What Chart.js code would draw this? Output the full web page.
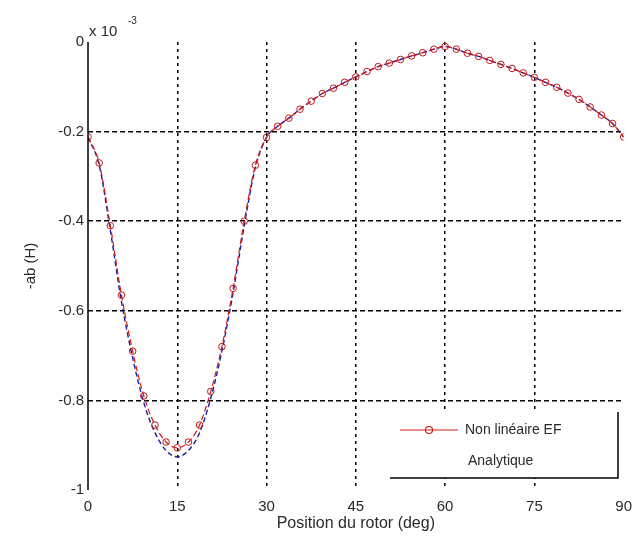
<!DOCTYPE html>
<html>
<head>
<meta charset="utf-8">
<script src="https://cdn.jsdelivr.net/npm/chart.js@4.4.1/dist/chart.umd.min.js"></script>
<style>
html,body{margin:0;padding:0;background:#fff;}
#wrap{width:640px;height:544px;position:relative;}
</style>
</head>
<body>
<div id="wrap"><canvas id="c" width="640" height="544"></canvas></div>
<script>
// Rotor position (deg), step 1.875
const positions = [0,1.875,3.75,5.625,7.5,9.375,11.25,13.125,15,16.875,18.75,20.625,22.5,24.375,26.25,28.125,30,
  31.875,33.75,35.625,37.5,39.375,41.25,43.125,45,46.875,48.75,50.625,52.5,54.375,56.25,58.125,60,
  61.875,63.75,65.625,67.5,69.375,71.25,73.125,75,76.875,78.75,80.625,82.5,84.375,86.25,88.125,90];
// Non linéaire EF (x 10^-3 H)
const nonLineaireEF = [-0.212,-0.27,-0.41,-0.565,-0.69,-0.79,-0.855,-0.893,-0.906,-0.893,-0.855,-0.78,-0.68,-0.55,-0.40,-0.275,-0.213,
  -0.188,-0.17,-0.15,-0.132,-0.115,-0.103,-0.09,-0.078,-0.066,-0.055,-0.047,-0.039,-0.031,-0.024,-0.016,-0.01,
  -0.016,-0.025,-0.032,-0.041,-0.05,-0.059,-0.069,-0.079,-0.09,-0.101,-0.114,-0.128,-0.145,-0.163,-0.182,-0.212];
// Analytique (x 10^-3 H)
const analytique = [-0.212,-0.275,-0.42,-0.58,-0.705,-0.805,-0.872,-0.912,-0.926,-0.912,-0.872,-0.795,-0.69,-0.56,-0.41,-0.28,-0.213,
  -0.188,-0.17,-0.15,-0.132,-0.115,-0.103,-0.09,-0.078,-0.066,-0.055,-0.047,-0.039,-0.031,-0.024,-0.016,-0.01,
  -0.016,-0.025,-0.032,-0.041,-0.05,-0.059,-0.069,-0.079,-0.09,-0.101,-0.114,-0.128,-0.145,-0.163,-0.182,-0.212];
const xTicks = [0,15,30,45,60,75,90];
const yTicks = [0,-0.2,-0.4,-0.6,-0.8,-1];
const seriesLabels = ['Non linéaire EF','Analytique'];

const FONT = '"Liberation Sans", Arial, sans-serif';

const overlay = {
  id:'overlay',
  afterDraw(chart){
    const ctx = chart.ctx;
    const a = chart.chartArea;
    ctx.save();
    // left axis line (solid)
    ctx.setLineDash([]);
    ctx.strokeStyle = '#000';
    ctx.lineWidth = 1.5;
    ctx.beginPath(); ctx.moveTo(a.left, a.top); ctx.lineTo(a.left, a.bottom); ctx.stroke();
    // exponent
    ctx.fillStyle = '#2a2a2a';
    ctx.textBaseline = 'alphabetic';
    ctx.font = '15px ' + FONT;
    ctx.fillText('x 10', 89, 36);
    ctx.font = '10px ' + FONT;
    ctx.fillText('-3', 128, 24);
    // legend box
    const L=390,T=412,R=618,B=478;
    ctx.fillStyle = '#fff';
    ctx.fillRect(L,T,R-L,B-T);
    ctx.strokeStyle = '#000';
    ctx.lineWidth = 1.5;
    ctx.beginPath();
    ctx.moveTo(R,T); ctx.lineTo(R,B); ctx.lineTo(L,B);
    ctx.stroke();
    // row 1
    ctx.strokeStyle = '#d21a1a';
    ctx.lineWidth = 1.2;
    ctx.beginPath(); ctx.moveTo(400,430); ctx.lineTo(458,430); ctx.stroke();
    ctx.beginPath(); ctx.arc(429,430,3.5,0,Math.PI*2); ctx.stroke();
    ctx.fillStyle = '#2a2a2a';
    ctx.font = '14px ' + FONT;
    ctx.textBaseline = 'middle';
    ctx.fillText(seriesLabels[0], 465, 430);
    ctx.fillText(seriesLabels[1], 468, 461);
    ctx.restore();
  }
};

new Chart(document.getElementById('c'), {
  type:'line',
  data:{
    datasets:[
      {
        label: seriesLabels[1],
        data: positions.map((x,i)=>({x, y: analytique[i]})),
        borderColor:'#1c1ca8',
        borderWidth:1.4,
        borderDash:[5,3],
        pointRadius:0,
        cubicInterpolationMode:'monotone',
        order:2
      },
      {
        label: seriesLabels[0],
        data: positions.map((x,i)=>({x, y: nonLineaireEF[i]})),
        borderColor:'#d21a1a',
        borderWidth:1.2,
        borderDash:[6,3],
        pointStyle:'circle',
        pointRadius:3.3,
        pointBorderColor:'#c01818',
        pointBorderWidth:1,
        pointBackgroundColor:'rgba(0,0,0,0)',
        cubicInterpolationMode:'monotone',
        order:1
      }
    ]
  },
  options:{
    responsive:false,
    animation:false,
    layout:{padding:{top:42,right:12,left:0,bottom:0}},
    plugins:{legend:{display:false},tooltip:{enabled:false}},
    scales:{
      x:{
        type:'linear', min:0, max:90,
        afterBuildTicks(s){ s.ticks = xTicks.map(v=>({value:v})); },
        afterFit(s){ s.height = 54; },
        border:{display:false, dash:[3,4]},
        grid:{
          color:(c)=> (c.tick && (c.tick.value===0||c.tick.value===90)) ? 'rgba(0,0,0,0)' : '#000',
          lineWidth:1.5,
          drawTicks:false
        },
        ticks:{color:'#2a2a2a', font:{family:FONT,size:15}, padding:8, maxRotation:0},
        title:{display:true, text:'Position du rotor (deg)', color:'#2a2a2a', font:{family:FONT,size:16}, padding:{top:0,bottom:11}}
      },
      y:{
        type:'linear', min:-1, max:0,
        afterBuildTicks(s){ s.ticks = yTicks.slice().reverse().map(v=>({value:v})); },
        afterFit(s){ s.width = 88; },
        border:{display:false, dash:[5,3]},
        grid:{
          color:(c)=> (c.tick && (c.tick.value===0||c.tick.value===-1)) ? 'rgba(0,0,0,0)' : '#000',
          lineWidth:1.5,
          drawTicks:false
        },
        ticks:{color:'#2a2a2a', font:{family:FONT,size:15}, padding:4,
          callback:(v)=> v===0 ? '0' : (Math.round(v*10)/10).toString()},
        title:{display:true, text:'-ab (H)', color:'#2a2a2a', font:{family:FONT,size:15}, padding:{top:22,bottom:0}}
      }
    }
  },
  plugins:[overlay]
});
</script>
</body>
</html>
